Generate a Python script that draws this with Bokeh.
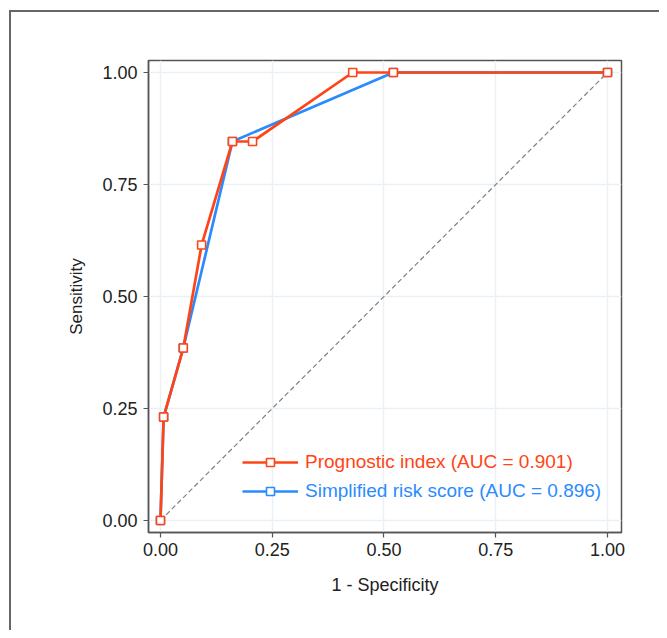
from bokeh.plotting import figure
from bokeh.models import Range1d, Legend, LegendItem, FixedTicker, CustomJSTickFormatter
from bokeh.embed import file_html
from bokeh.resources import INLINE

# Data
pi_x = [0.0, 0.007, 0.051, 0.092, 0.161, 0.206, 0.430, 0.521, 1.0]
pi_y = [0.0, 0.231, 0.385, 0.615, 0.846, 0.846, 1.0, 1.0, 1.0]
srs_x = [0.0, 0.007, 0.051, 0.161, 0.521, 1.0]
srs_y = [0.0, 0.231, 0.385, 0.846, 1.0, 1.0]
ref_x = [0.0, 1.0]
ref_y = [0.0, 1.0]
ticks = [0.0, 0.25, 0.5, 0.75, 1.0]
pi_label = "Prognostic index (AUC = 0.901)"
srs_label = "Simplified risk score (AUC = 0.896)"

RED = "#FF4416"
BLUE = "#2A8BFF"
FONT = "Liberation Sans"

p = figure(width=659, height=630, output_backend="svg", toolbar_location=None,
           x_range=Range1d(-0.0268, 1.0313), y_range=Range1d(-0.0268, 1.0268),
           min_border_left=148, min_border_top=60, min_border_right=38, min_border_bottom=98)

# outer panel frame (left and top edges) drawn as the element's CSS background
p.border_fill_alpha = 0
p.styles = {
    "background": ("linear-gradient(#666666, #666666) 9px 10px / 2px 100% no-repeat, "
                   "linear-gradient(#666666, #666666) 9px 10px / 100% 2px no-repeat, white"),
}

p.outline_line_color = "#555555"
p.outline_line_width = 1.5
p.background_fill_color = "white"

fmt = CustomJSTickFormatter(code="return tick.toFixed(2);")
for ax in (p.xaxis, p.yaxis):
    ax.ticker = FixedTicker(ticks=ticks)
    ax.formatter = fmt
    ax.axis_line_color = "#555555"
    ax.axis_line_width = 1.5
    ax.major_tick_line_color = "#555555"
    ax.major_tick_line_width = 1.2
    ax.major_tick_out = 5
    ax.major_tick_in = 0
    ax.minor_tick_line_color = None
    ax.major_label_text_font = FONT
    ax.major_label_text_font_size = "18px"
    ax.major_label_text_color = "#222222"
    ax.axis_label_text_font = FONT
    ax.axis_label_text_font_size = "18px"
    ax.axis_label_text_font_style = "normal"
    ax.axis_label_text_color = "#222222"

p.xaxis.axis_label = "1 - Specificity"
p.yaxis.axis_label = "Sensitivity"
p.yaxis.axis_label_text_font_size = "17px"
p.xaxis.major_label_standoff = 5
p.yaxis.major_label_standoff = 6
p.xaxis.axis_label_standoff = 16
p.yaxis.axis_label_standoff = 13

p.xgrid.ticker = FixedTicker(ticks=ticks)
p.ygrid.ticker = FixedTicker(ticks=ticks)
p.grid.grid_line_color = "#EAF1F6"
p.grid.grid_line_width = 1.5

p.line(ref_x, ref_y, line_color="#808080", line_dash="5 3", line_width=1.2)

bl = p.line(srs_x, srs_y, line_color=BLUE, line_width=2.7)
bs = p.scatter(srs_x, srs_y, marker="square", size=8, fill_color="white",
               line_color=BLUE, line_width=1.6)
rl = p.line(pi_x, pi_y, line_color=RED, line_width=2.7)
rs = p.scatter(pi_x, pi_y, marker="square", size=8, fill_color="white",
               line_color=RED, line_width=1.6)

def make_legend(label, renderers, color, loc):
    return Legend(items=[LegendItem(label=label, renderers=renderers)], location=loc,
                  padding=0, margin=0, glyph_width=56, glyph_height=20, label_height=20,
                  label_standoff=7, border_line_color=None, background_fill_alpha=0,
                  label_text_font=FONT, label_text_font_size="19px", label_text_color=color)

p.add_layout(make_legend(pi_label, [rl, rs], RED, (94, 59)))
p.add_layout(make_legend(srs_label, [bl, bs], BLUE, (94, 30)))

open("out.html", "w").write(file_html(p, INLINE))
